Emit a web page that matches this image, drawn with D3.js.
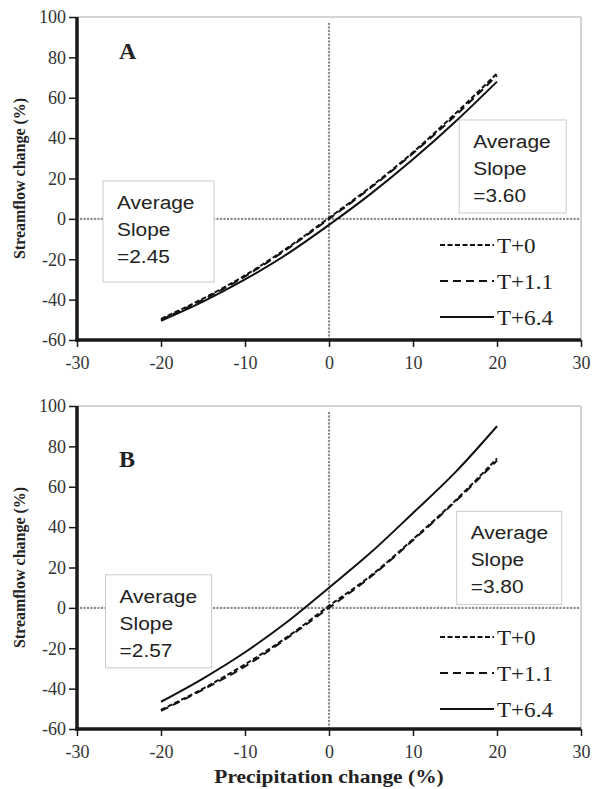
<!DOCTYPE html>
<html>
<head>
<meta charset="utf-8">
<script src="https://cdn.jsdelivr.net/npm/d3@7.9.0/dist/d3.min.js"></script>
<style>
  body { margin: 0; background: #fff; }
</style>
</head>
<body>
<svg id="chart" width="593" height="789"></svg>
<script>
const precip = [-20, -15, -10, -5, 0, 5, 10, 15, 20];

const seriesNames = ['T+0', 'T+1.1', 'T+6.4'];

// panel A
const aT0   = [-49.5, -39.5, -28, -14.5, 0.5, 16, 33, 52, 72];
const aT11  = [-50, -40, -28.5, -15, 0, 15.5, 32.5, 51, 71];
const aT64  = [-50.5, -41, -30, -17.5, -3, 12.5, 29.5, 48, 68];

// panel B
const bT0   = [-50.5, -40, -28, -14.5, 1, 16, 34, 53, 74];
const bT11  = [-51, -40.5, -29, -15, 0, 15.5, 33.5, 52.5, 73];
const bT64  = [-46.5, -35, -22, -7, 10, 27.5, 47, 67, 90];

const xTicks = [-30, -20, -10, 0, 10, 20, 30];
const yTicks = [-60, -40, -20, 0, 20, 40, 60, 80, 100];

const serif = '"Liberation Serif", "Times New Roman", serif';
const sans = '"Liberation Sans", Arial, sans-serif';
const sx = 1.1; // text in the scan is a bit wide

// box = [x0, y0 (data), width px, height px]
const panels = [
  { label: 'A', top: 17, letterDy: 42, series: [aT0, aT11, aT64], slopeL: '2.45', slopeR: '3.60',
    boxL: [-26.9, 18.8, 111, 101], boxR: [15.5, 49, 107, 93], legY: 245 },
  { label: 'B', top: 406, letterDy: 61, series: [bT0, bT11, bT64], slopeL: '2.57', slopeR: '3.80',
    boxL: [-26.6, 16.4, 106, 93], boxR: [15.2, 47.8, 105, 93], legY: 637 }
];

const dashes = ['5,2.5', '8,5', null];

const svg = d3.select('#chart');
const left = 77, right = 581, plotH = 323;

const x = d3.scaleLinear().domain([-30, 30]).range([left, right]);

function wideText(g, tx, ty, str, font, size, anchor) {
  return g.append('text')
    .attr('transform', `translate(${tx},${ty}) scale(${sx},1)`)
    .attr('font-family', font).attr('font-size', size)
    .attr('text-anchor', anchor || 'start')
    .attr('fill', '#222').text(str);
}

panels.forEach(p => {
  const y = d3.scaleLinear().domain([-60, 100]).range([p.top + plotH, p.top]);
  const g = svg.append('g');

  // light frame top/right
  g.append('path')
    .attr('d', `M${left},${y(100)}H${right}V${y(-60)}`)
    .attr('fill', 'none').attr('stroke', '#aaa').attr('stroke-width', 1);

  // dotted zero lines
  const dotted = sel => sel.attr('stroke', '#8c8c8c').attr('stroke-width', 2.4)
    .attr('stroke-dasharray', '0.1,3.4').attr('stroke-linecap', 'round');
  g.append('line')
    .attr('x1', x(0)).attr('x2', x(0)).attr('y1', y(100) + 7).attr('y2', y(-60))
    .call(dotted);
  g.append('line')
    .attr('x1', left + 4).attr('x2', right).attr('y1', y(0)).attr('y2', y(0))
    .call(dotted);

  // slope boxes
  const drawBox = (b, val) => {
    const bx = x(b[0]), by = y(b[1]);
    const bg = g.append('g');
    bg.append('rect').attr('x', bx).attr('y', by).attr('width', b[2]).attr('height', b[3])
      .attr('fill', '#fff').attr('stroke', '#ccc');
    wideText(bg, bx + 14, by + 28, 'Average', sans, 19);
    wideText(bg, bx + 14, by + 55, 'Slope', sans, 19);
    wideText(bg, bx + 14, by + 82, '=' + val, sans, 19);
  };
  drawBox(p.boxL, p.slopeL);
  drawBox(p.boxR, p.slopeR);

  // curves
  const line = d3.line().x((d, i) => x(precip[i])).y(d => y(d)).curve(d3.curveMonotoneX);
  p.series.forEach((s, i) => {
    g.append('path').datum(s).attr('d', line)
      .attr('fill', 'none').attr('stroke', '#111').attr('stroke-width', 2)
      .attr('stroke-dasharray', dashes[i]);
  });

  // legend
  const lg = g.append('g');
  seriesNames.forEach((n, i) => {
    const ly = p.legY + i * 36;
    lg.append('line').attr('x1', 440).attr('x2', 494).attr('y1', ly).attr('y2', ly)
      .attr('stroke', '#111').attr('stroke-width', 2).attr('stroke-dasharray', dashes[i]);
    wideText(lg, 497, ly + 8, n, serif, 21);
  });

  // panel letter
  g.append('text').attr('x', 119).attr('y', p.top + p.letterDy)
    .attr('font-family', serif).attr('font-weight', 'bold')
    .attr('font-size', 24).attr('fill', '#222').text(p.label);

  // axes
  const ya = g.append('g').attr('transform', `translate(${left},0)`)
    .call(d3.axisLeft(y).tickValues(yTicks).tickSize(8).tickPadding(3).tickFormat(d => String(d)));
  const xa = g.append('g').attr('transform', `translate(0,${y(-60)})`)
    .call(d3.axisBottom(x).tickValues(xTicks).tickSize(7).tickPadding(9).tickFormat(d => String(d)));
  [ya, xa].forEach(a => {
    a.select('.domain').attr('stroke', '#1a1a1a').attr('stroke-width', 3.5);
    a.selectAll('.tick line').attr('stroke', '#1a1a1a').attr('stroke-width', 1.5);
    a.selectAll('.tick text')
      .attr('fill', '#333')
      .style('font-family', serif)
      .style('font-size', '18px');
  });
  ya.select('.domain').attr('d', `M0,${y(100)}V${y(-60) + 1.75}`);
  xa.select('.domain').attr('d', `M${left - 1.75},0H${right}`);

  // y title
  g.append('text')
    .attr('transform', `translate(25,${(y(100) + y(-60)) / 2}) rotate(-90) scale(1,${sx})`)
    .attr('text-anchor', 'middle')
    .attr('font-family', serif).attr('font-weight', 'bold')
    .attr('font-size', 16).attr('fill', '#222').text('Streamflow change (%)');
});

svg.append('text')
  .attr('transform', `translate(${x(0)},783) scale(${sx},1)`)
  .attr('text-anchor', 'middle')
  .attr('font-family', serif).attr('font-weight', 'bold')
  .attr('font-size', 19.5).attr('fill', '#222').text('Precipitation change (%)');
</script>
</body>
</html>
